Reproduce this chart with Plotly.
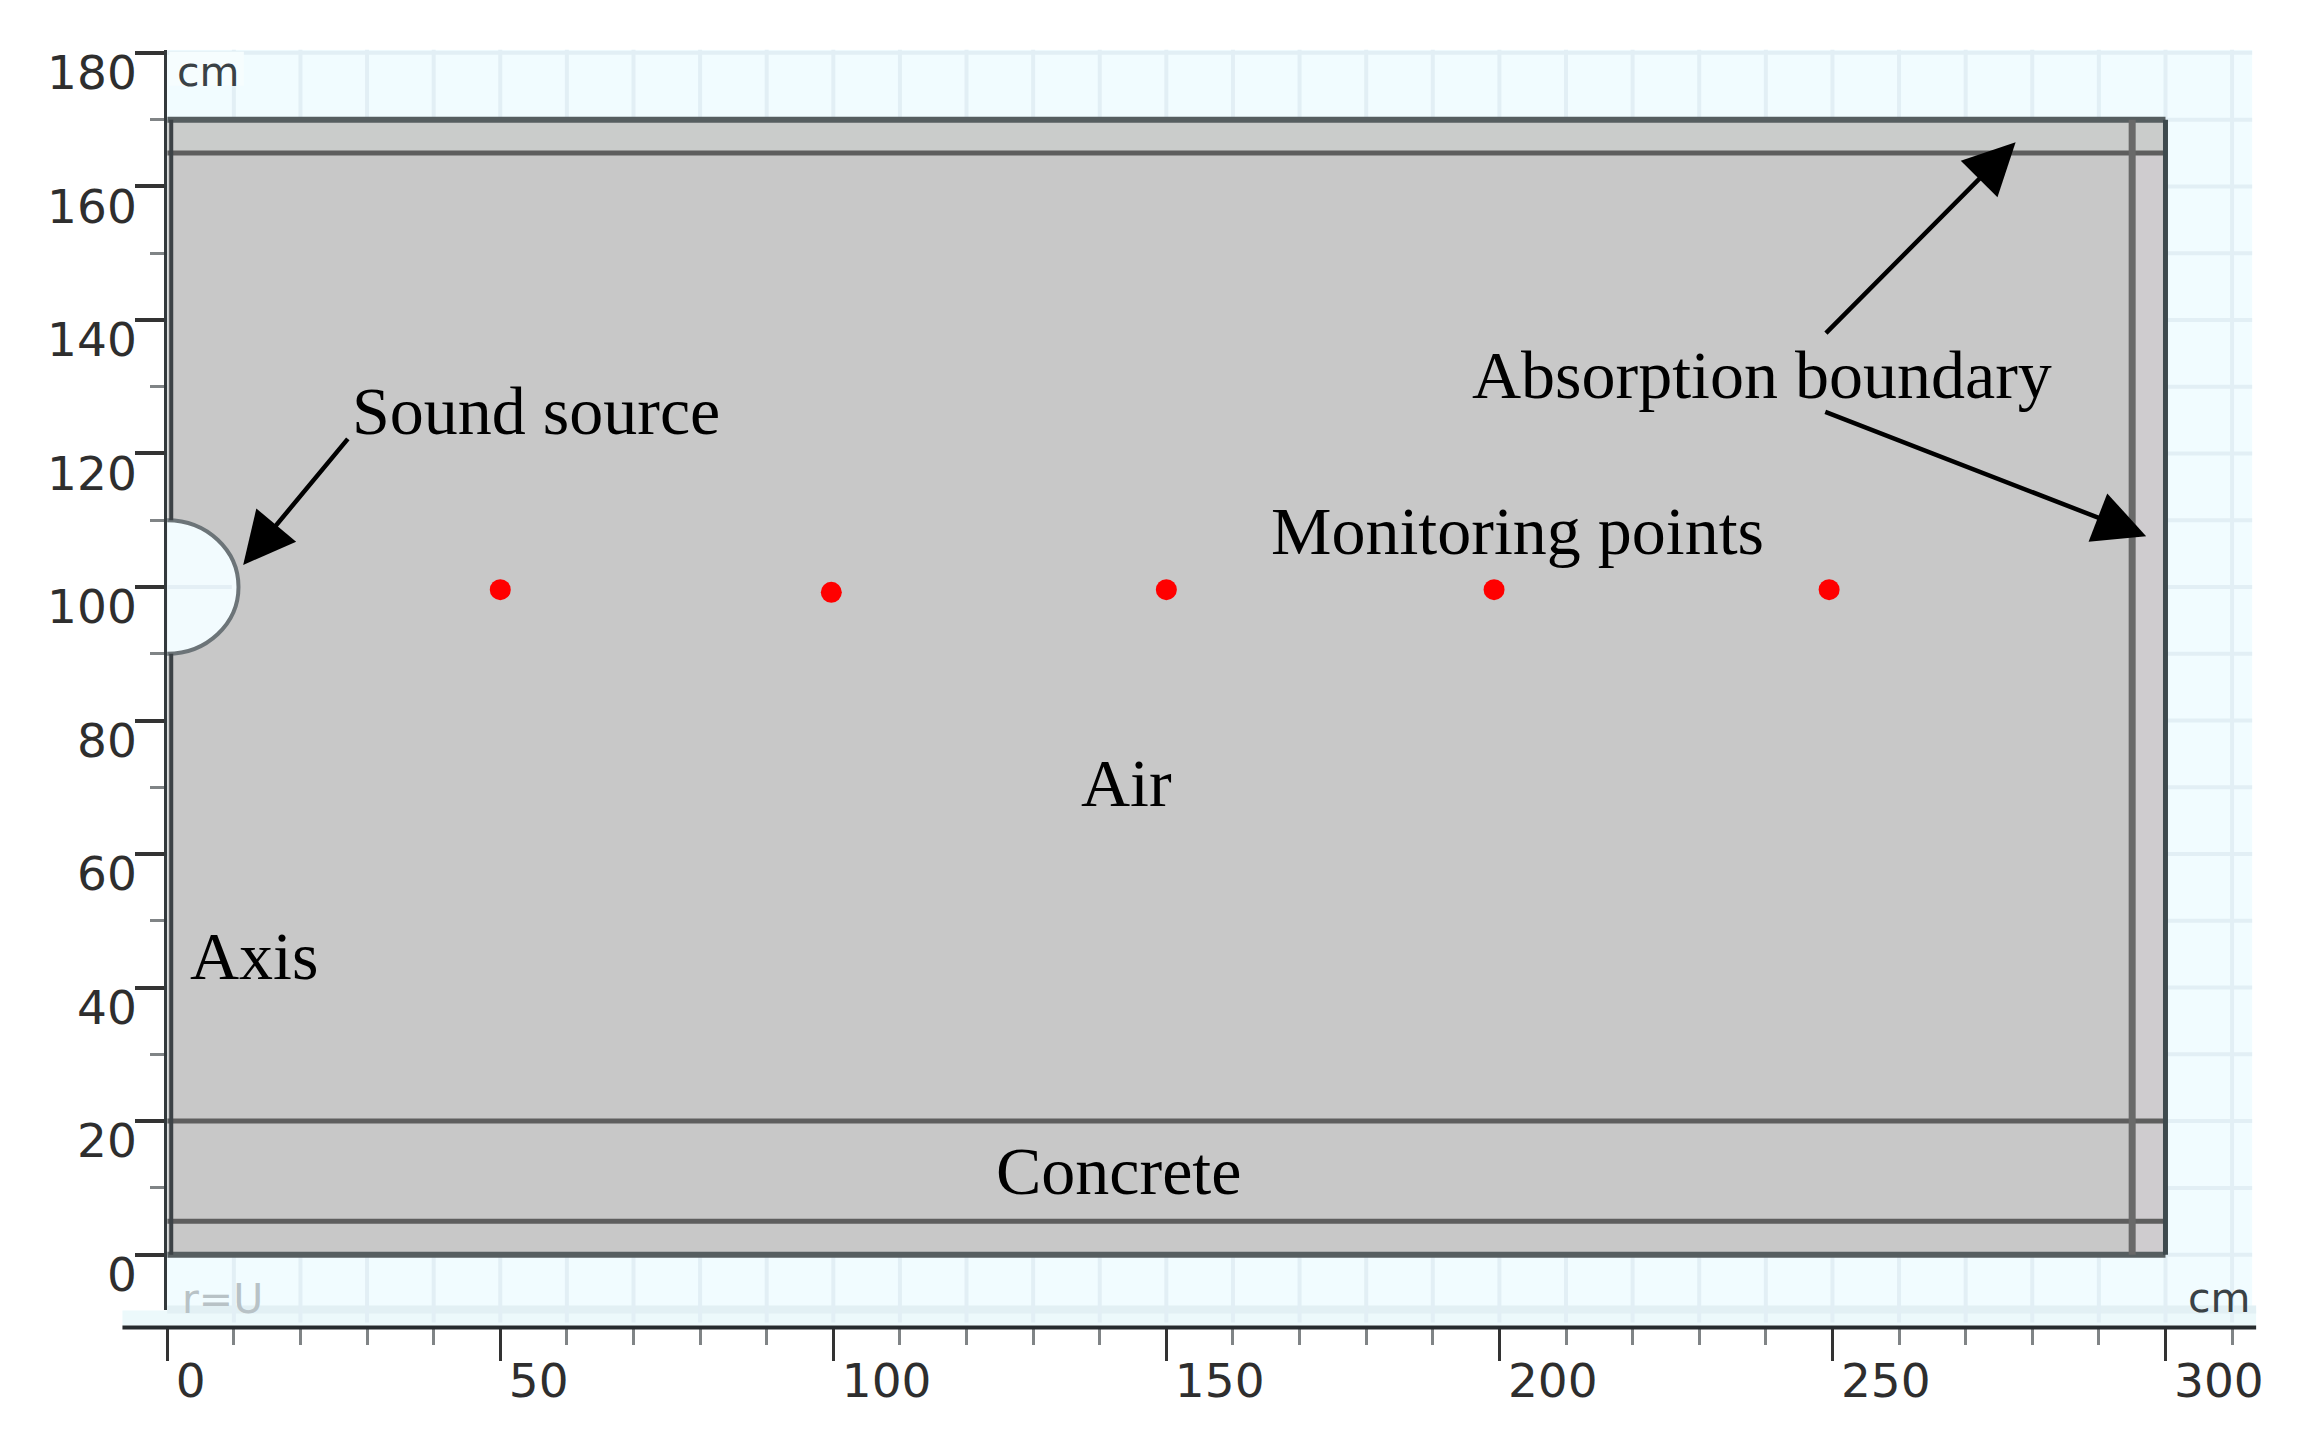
import plotly.graph_objects as go

W, H = 2304 - 16, 1446 - 16

# --- data (cm) ---
monitor_x = [50.0, 99.7, 150.0, 199.2, 249.5]
monitor_y = [99.6, 99.2, 99.6, 99.6, 99.6]
outer_x = [0, 300]
outer_y = [0, 170]
inner_h_lines = [165, 20, 5]
outer_h_lines = [170, 0]
inner_v_line = 295
source_center = 100
source_radius_x = 10.7
source_radius_y = 10
x_major = [0, 50, 100, 150, 200, 250, 300]
y_major = [0, 20, 40, 60, 80, 100, 120, 140, 160, 180]
x_grid = [10, 20, 30, 40, 50, 60, 70, 80, 90, 100, 110, 120, 130, 140, 150, 160,
          170, 180, 190, 200, 210, 220, 230, 240, 250, 260, 270, 280, 290, 300, 310]
y_grid = [0, 10, 20, 30, 40, 50, 60, 70, 80, 90, 100, 110, 120, 130, 140, 150, 160, 170, 180]

label_text = ["Sound source", "Absorption boundary", "Monitoring points", "Air", "Axis", "Concrete"]
label_x = [55.3, 239.4, 202.7, 144.0, 13.1, 142.8]
label_y = [126.4, 131.8, 108.4, 70.6, 44.8, 12.5]

arrow_from_x = [27.3, 248.8, 248.7]
arrow_from_y = [122.4, 137.8, 126.3]
arrow_to_x = [11.4, 277.5, 297.1]
arrow_to_y = [103.3, 166.6, 107.6]

# --- pixel layout (page coordinates; the page has an 8 px body margin) ---
PX_L, PX_R, PX_T, PX_B, PX_AXIS = 168, 2263, 45, 1310, 1327
BLUE = "#F1FCFF"
GRID = "#E2EFF5"


def py(v):
    return 1 - (v - 8) / H


def px(v):
    return (v - 8) / W


fig = go.Figure()
fig.add_trace(go.Scatter(x=monitor_x, y=monitor_y, mode="markers",
                         marker=dict(color="#FF0000", size=21, line=dict(width=0)),
                         showlegend=False, hoverinfo="skip"))

shapes = []
# blue strip below plot and stubs of the x axis
shapes.append(dict(type="rect", xref="paper", yref="paper", x0=px(123), x1=px(2267), y0=py(1325), y1=py(1310),
                   fillcolor="#ECF9FB", line_width=0, layer="below"))
shapes.append(dict(type="rect", xref="paper", yref="paper", x0=px(PX_L), x1=px(2267), y0=py(1313), y1=py(1305),
                   fillcolor="#E2F0F4", line_width=0, layer="below"))
shapes.append(dict(type="line", xref="paper", yref="paper", x0=px(123), x1=px(2267), y0=py(PX_AXIS), y1=py(PX_AXIS),
                   line=dict(color="#262B2E", width=4), layer="above"))
# background grid
for v in x_grid:
    shapes.append(dict(type="line", x0=v, x1=v, yref="paper", y0=py(1322), y1=py(PX_T),
                       line=dict(color=GRID, width=4), layer="below"))
for v in y_grid:
    shapes.append(dict(type="line", xref="paper", x0=px(PX_L), x1=px(PX_R), y0=v, y1=v,
                       line=dict(color=GRID, width=4), layer="below"))
# main domain
shapes.append(dict(type="rect", x0=outer_x[0], x1=outer_x[1], y0=outer_y[0], y1=outer_y[1],
                   fillcolor="#C8C8C8", line_width=0, layer="below"))
shapes.append(dict(type="rect", x0=inner_v_line, x1=outer_x[1], y0=outer_y[0], y1=outer_y[1],
                   fillcolor="#CFCCCF", line_width=0, layer="below"))
shapes.append(dict(type="rect", x0=outer_x[0], x1=outer_x[1], y0=165, y1=170,
                   fillcolor="#CACCCB", line_width=0, layer="below"))
# sound source
shapes.append(dict(type="circle", x0=-source_radius_x, x1=source_radius_x,
                   y0=source_center - source_radius_y, y1=source_center + source_radius_y,
                   fillcolor="#F2FBFE", line=dict(color="#6C7478", width=4), layer="below"))
shapes.append(dict(type="line", x0=0, x1=source_radius_x - 1, y0=source_center, y1=source_center,
                   line=dict(color="#E4EFF5", width=4), layer="below"))
# boundary lines
for v in inner_h_lines:
    shapes.append(dict(type="line", x0=outer_x[0], x1=outer_x[1], y0=v, y1=v,
                       line=dict(color="#5E5E5E", width=5), layer="below"))
for v in outer_h_lines:
    shapes.append(dict(type="line", x0=outer_x[0], x1=outer_x[1], y0=v, y1=v,
                       line=dict(color="#565E60", width=6), layer="below"))
shapes.append(dict(type="line", x0=inner_v_line, x1=inner_v_line, y0=outer_y[0], y1=outer_y[1],
                   line=dict(color="#696969", width=7), layer="below"))
shapes.append(dict(type="line", x0=outer_x[1], x1=outer_x[1], y0=outer_y[0], y1=outer_y[1],
                   line=dict(color="#3E4A4E", width=5), layer="below"))
# doubled left edge
for y0, y1 in [(outer_y[0], source_center - source_radius_y), (source_center + source_radius_y, outer_y[1])]:
    shapes.append(dict(type="line", x0=0.6, x1=0.6, y0=y0, y1=y1,
                       line=dict(color="#3C4246", width=4), layer="below"))
# white box behind the corner unit
shapes.append(dict(type="rect", xref="paper", yref="paper", x0=px(170), x1=px(245), y0=py(81), y1=py(47),
                   fillcolor="#F6FDFE", line_width=0, layer="below"))

annotations = []
for t, x, y in zip(label_text, label_x, label_y):
    annotations.append(dict(x=x, y=y, text=t, showarrow=False, xanchor="center", yanchor="middle",
                            font=dict(family="Liberation Serif", size=68, color="#000000")))
for x0, y0, x1, y1 in zip(arrow_from_x, arrow_from_y, arrow_to_x, arrow_to_y):
    annotations.append(dict(x=x1, y=y1, ax=x0, ay=y0, xref="x", yref="y", axref="x", ayref="y", text="",
                            showarrow=True, arrowhead=2, arrowsize=2.3, arrowwidth=4.5, arrowcolor="#000000",
                            standoff=0, startstandoff=0))
unit_font = dict(family="DejaVu Sans", size=41, color="#3A4246")
annotations.append(dict(xref="paper", yref="paper", x=px(176), y=py(67), text="cm", showarrow=False,
                        xanchor="left", yanchor="middle", font=unit_font))
annotations.append(dict(xref="paper", yref="paper", x=px(2197), y=py(1298), text="cm", showarrow=False,
                        xanchor="left", yanchor="middle", font=unit_font))
annotations.append(dict(xref="paper", yref="paper", x=px(181), y=py(1299), text="r=U", showarrow=False,
                        xanchor="left", yanchor="middle",
                        font=dict(family="DejaVu Sans", size=41, color="#B8C2C6")))

tick_font = dict(family="DejaVu Sans", size=47, color="#2E2E2E")
fig.update_layout(
    width=W, height=H, autosize=False,
    margin=dict(l=0, r=0, t=0, b=0),
    paper_bgcolor="#FFFFFF", plot_bgcolor=BLUE, showlegend=False,
    shapes=shapes, annotations=annotations,
    xaxis=dict(
        domain=[px(PX_L), px(PX_R)], range=[0, (PX_R - PX_L) / 6.693],
        anchor="free", position=py(PX_AXIS),
        tickmode="array", tickvals=x_major, ticktext=[str(v) for v in x_major],
        ticks="outside", ticklen=33, tickwidth=3, tickcolor="#333333",
        ticklabelposition="outside right", tickfont=tick_font,
        ticklabelshift=7, ticklabelstandoff=12,
        showgrid=False, zeroline=False, showline=False,
        minor=dict(dtick=10, tick0=0, ticks="outside", ticklen=17, tickwidth=3, tickcolor="#808486",
                   showgrid=False),
    ),
    yaxis=dict(
        domain=[py(PX_B), py(PX_T)], range=[(1254 - PX_B) / 6.7, (1254 - PX_T) / 6.7],
        anchor="x", side="left",
        tickmode="array", tickvals=y_major, ticktext=[str(v) for v in y_major],
        ticks="outside", ticklen=29, tickwidth=4, tickcolor="#333333",
        ticklabelposition="outside bottom", tickfont=tick_font,
        ticklabelshift=-15, ticklabelstandoff=18,
        showgrid=False, zeroline=False,
        showline=True, linecolor="#33393C", linewidth=3,
        minor=dict(dtick=10, tick0=0, ticks="outside", ticklen=14, tickwidth=3, tickcolor="#808486",
                   showgrid=False),
    ),
)
fig.write_html("out.html")
